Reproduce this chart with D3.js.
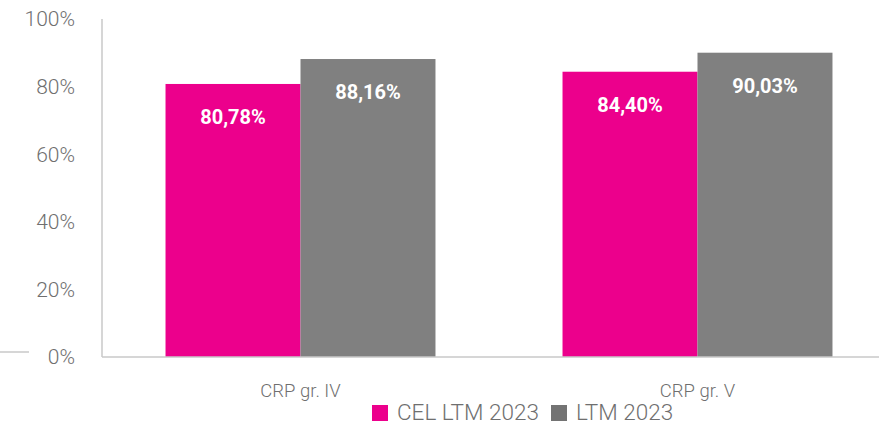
<!DOCTYPE html>
<html><head><meta charset="utf-8">
<script src="https://cdn.jsdelivr.net/npm/d3@7"></script>
<style>html,body{margin:0;padding:0;background:#fff;}svg{display:block;font-family:Roboto,"Open Sans",sans-serif;}</style>
</head><body>
<svg id="chart" width="879" height="424"></svg>
<script>
const categories = ["CRP gr. IV", "CRP gr. V"];
const seriesNames = ["CEL LTM 2023", "LTM 2023"];
const celValues = [80.78, 84.40];
const ltmValues = [88.16, 90.03];
const yTicks = [0, 20, 40, 60, 80, 100];
const barColors = ["#EC008C", "#808080"];
const legendColors = ["#EC008C", "#737373"];

const svg = d3.select("#chart");
const x0 = d3.scaleBand().domain(categories).range([102, 896]).paddingInner(0.32).paddingOuter(0.16);
const x1 = d3.scaleBand().domain(seriesNames).range([0, x0.bandwidth()]);
const y = d3.scaleLinear().domain([0, 100]).range([357, 19]);

const data = categories.map((c, i) => ({cat: c, vals: [
  {s: seriesNames[0], v: celValues[i], c: barColors[0]},
  {s: seriesNames[1], v: ltmValues[i], c: barColors[1]}
]}));

// stray line at left
svg.append("line").attr("x1", 0).attr("x2", 29).attr("y1", 352).attr("y2", 352)
  .attr("stroke", "#c8c8c8").attr("stroke-width", 1.5);

// y tick labels
svg.append("g").selectAll("text").data(yTicks).join("text")
  .attr("x", 75).attr("y", d => y(d)).attr("dy", "0.35em")
  .attr("text-anchor", "end").attr("fill", "#6f6f6f")
  .attr("font-size", 21).attr("font-weight", 300)
  .text(d => d + "%");

// bars
const g = svg.append("g").selectAll("g").data(data).join("g")
  .attr("transform", d => `translate(${x0(d.cat)},0)`);
g.selectAll("rect").data(d => d.vals).join("rect")
  .attr("x", d => x1(d.s)).attr("width", x1.bandwidth())
  .attr("y", d => y(d.v)).attr("height", d => y(0) - y(d.v))
  .attr("fill", d => d.c);
g.selectAll("text").data(d => d.vals).join("text")
  .attr("x", d => x1(d.s) + x1.bandwidth() / 2)
  .attr("y", d => y(d.v) + 40)
  .attr("text-anchor", "middle").attr("fill", "#fff")
  .attr("font-size", 20).attr("font-weight", 700)
  .text(d => d.v.toFixed(2).replace(".", ",") + "%");

// axes lines
svg.append("line").attr("x1", 102).attr("x2", 102).attr("y1", 19).attr("y2", 357)
  .attr("stroke", "#c8c8c8").attr("stroke-width", 1.5);
svg.append("line").attr("x1", 102).attr("x2", 879).attr("y1", 357).attr("y2", 357)
  .attr("stroke", "#c8c8c8").attr("stroke-width", 1.5);

// category labels
svg.append("g").selectAll("text").data(categories).join("text")
  .attr("x", d => x0(d) + x0.bandwidth() / 2).attr("y", 397)
  .attr("text-anchor", "middle").attr("fill", "#6f6f6f")
  .attr("font-size", 18.5).attr("font-weight", 300)
  .text(d => d);

// legend
const legendX = [372, 551];
const lg = svg.append("g").selectAll("g").data(seriesNames).join("g")
  .attr("transform", (d, i) => `translate(${legendX[i]},0)`);
lg.append("rect").attr("x", 0).attr("y", 405).attr("width", 16).attr("height", 16)
  .attr("fill", (d, i) => legendColors[i]);
lg.append("text").attr("x", 25).attr("y", 420)
  .attr("fill", "#6f6f6f").attr("font-size", 22.5).attr("font-weight", 300)
  .text(d => d);
</script>
</body></html>
